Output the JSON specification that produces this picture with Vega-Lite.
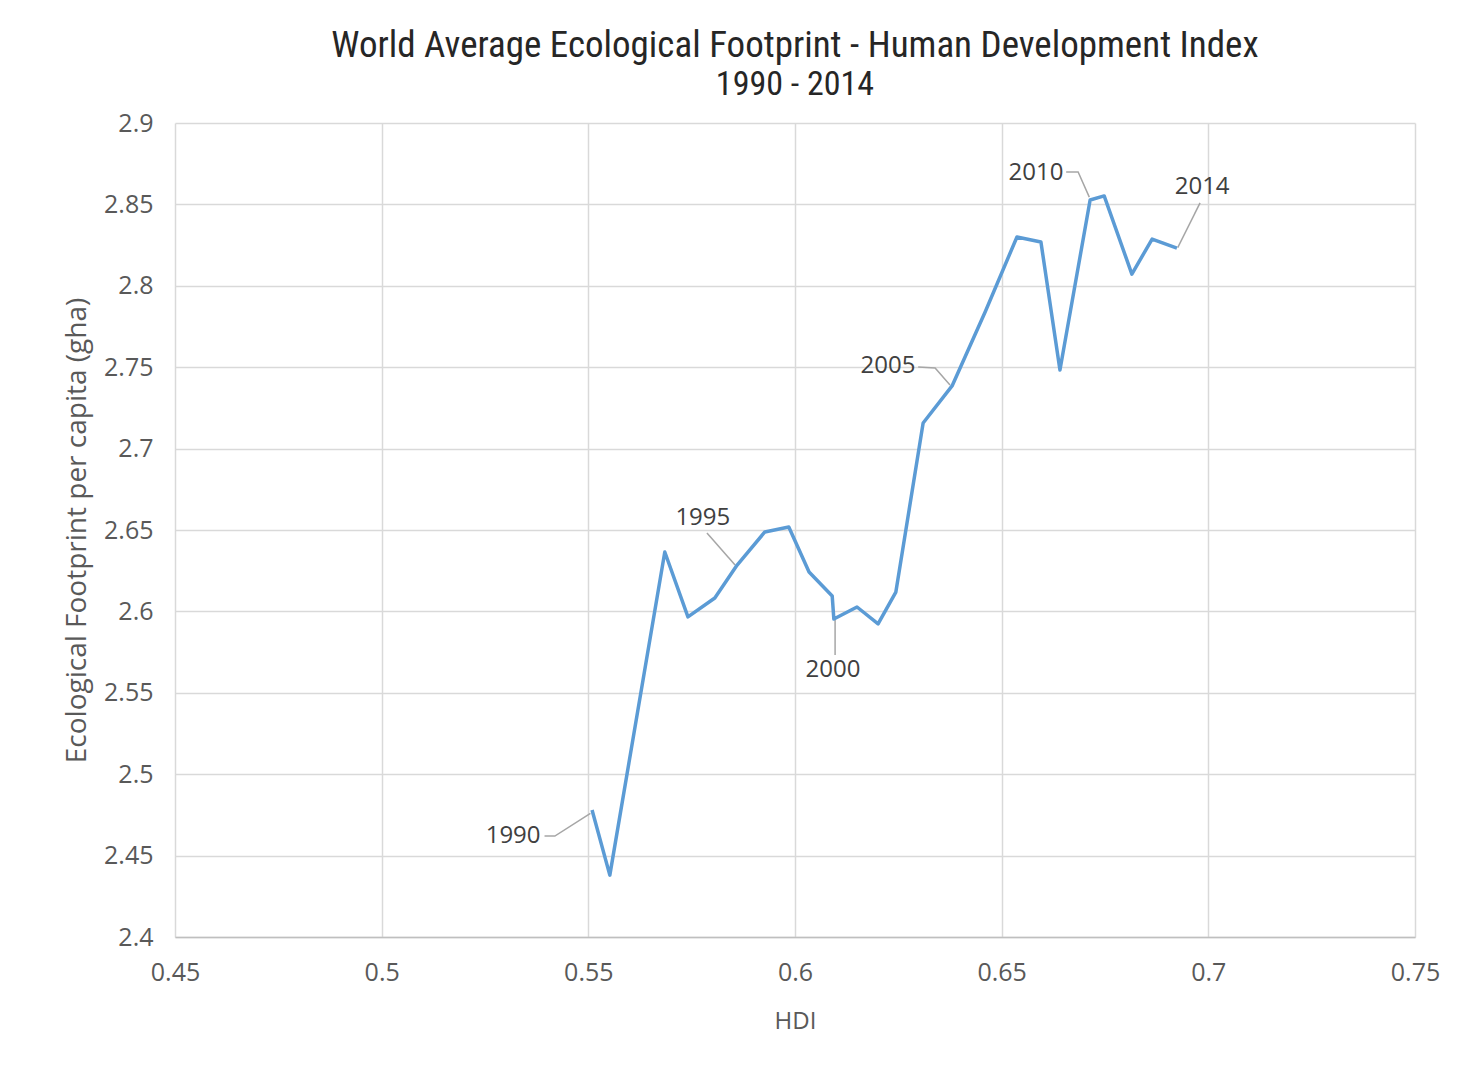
{
  "$schema": "https://vega.github.io/schema/vega-lite/v6.json",
  "autosize": "none",
  "width": 1240,
  "height": 814,
  "padding": {"left": 175, "top": 123, "right": 47, "bottom": 138},
  "background": "white",
  "config": {
    "view": {"stroke": null},
    "font": "Roboto"
  },
  "title": {
    "text": "World Average Ecological Footprint - Human Development Index",
    "subtitle": "1990 - 2014",
    "anchor": "middle",
    "font": "Liberation Sans Narrow, Roboto Condensed, Roboto",
    "fontSize": 37,
    "fontWeight": "normal",
    "color": "#262626",
    "subtitleFont": "Liberation Sans Narrow, Roboto Condensed, Roboto",
    "subtitleFontSize": 34,
    "subtitleColor": "#262626",
    "subtitlePadding": 3,
    "offset": 8
  },
  "datasets": {
    "series": [
      {"year": 1990, "hdi": 0.5509, "ef": 2.478},
      {"year": 1991, "hdi": 0.5552, "ef": 2.438},
      {"year": 1992, "hdi": 0.5685, "ef": 2.6365},
      {"year": 1993, "hdi": 0.5741, "ef": 2.5966},
      {"year": 1994, "hdi": 0.5806, "ef": 2.6082},
      {"year": 1995, "hdi": 0.586, "ef": 2.6285},
      {"year": 1996, "hdi": 0.5927, "ef": 2.6488},
      {"year": 1997, "hdi": 0.5985, "ef": 2.6518},
      {"year": 1998, "hdi": 0.6034, "ef": 2.6242},
      {"year": 1999, "hdi": 0.609, "ef": 2.6095},
      {"year": 2000, "hdi": 0.6094, "ef": 2.5953},
      {"year": 2001, "hdi": 0.615, "ef": 2.6027},
      {"year": 2002, "hdi": 0.6201, "ef": 2.5923},
      {"year": 2003, "hdi": 0.6244, "ef": 2.6119},
      {"year": 2004, "hdi": 0.631, "ef": 2.7157},
      {"year": 2005, "hdi": 0.638, "ef": 2.7385},
      {"year": 2006, "hdi": 0.646, "ef": 2.7839},
      {"year": 2007, "hdi": 0.6537, "ef": 2.83},
      {"year": 2008, "hdi": 0.6595, "ef": 2.8269},
      {"year": 2009, "hdi": 0.6641, "ef": 2.7483},
      {"year": 2010, "hdi": 0.6714, "ef": 2.8527},
      {"year": 2011, "hdi": 0.6748, "ef": 2.8552},
      {"year": 2012, "hdi": 0.6815, "ef": 2.8072},
      {"year": 2013, "hdi": 0.6864, "ef": 2.8287},
      {"year": 2014, "hdi": 0.6924, "ef": 2.8232}
    ],
    "labels": [
      {"label": "1990", "hdi": 0.5318, "ef": 2.462},
      {"label": "1995", "hdi": 0.5777, "ef": 2.6574},
      {"label": "2000", "hdi": 0.6092, "ef": 2.564},
      {"label": "2005", "hdi": 0.6225, "ef": 2.7507},
      {"label": "2010", "hdi": 0.6583, "ef": 2.8693},
      {"label": "2014", "hdi": 0.6985, "ef": 2.8607}
    ],
    "leaders": [
      {"label": "1990", "k": 1, "hdi": 0.5394, "ef": 2.462},
      {"label": "1990", "k": 2, "hdi": 0.5419, "ef": 2.462},
      {"label": "1990", "k": 3, "hdi": 0.5505, "ef": 2.476},
      {"label": "1995", "k": 1, "hdi": 0.5787, "ef": 2.6482},
      {"label": "1995", "k": 2, "hdi": 0.5855, "ef": 2.6285},
      {"label": "2000", "k": 1, "hdi": 0.6097, "ef": 2.5732},
      {"label": "2000", "k": 2, "hdi": 0.6097, "ef": 2.5953},
      {"label": "2005", "k": 1, "hdi": 0.6298, "ef": 2.7501},
      {"label": "2005", "k": 2, "hdi": 0.6339, "ef": 2.7495},
      {"label": "2005", "k": 3, "hdi": 0.6375, "ef": 2.739},
      {"label": "2010", "k": 1, "hdi": 0.6656, "ef": 2.8699},
      {"label": "2010", "k": 2, "hdi": 0.6685, "ef": 2.8699},
      {"label": "2010", "k": 3, "hdi": 0.6712, "ef": 2.8545},
      {"label": "2014", "k": 1, "hdi": 0.698, "ef": 2.8509},
      {"label": "2014", "k": 2, "hdi": 0.6926, "ef": 2.8235}
    ]
  },
  "encoding": {
    "x": {
      "field": "hdi",
      "type": "quantitative",
      "scale": {"domain": [0.45, 0.75], "nice": false, "zero": false},
      "axis": {
        "title": "HDI",
        "values": [0.45, 0.5, 0.55, 0.6, 0.65, 0.7, 0.75],
        "format": "~g",
        "grid": true,
        "gridColor": "#d9d9d9",
        "gridWidth": 1.5,
        "domain": true,
        "domainColor": "#bfbfbf",
        "domainWidth": 1.5,
        "ticks": false,
        "labelFlush": false,
        "labelFont": "Open Sans",
        "labelFontSize": 25,
        "labelColor": "#595959",
        "labelPadding": 23,
        "titleFont": "Open Sans",
        "titleFontSize": 24,
        "titleFontWeight": "normal",
        "titleColor": "#595959",
        "titlePadding": 24
      }
    },
    "y": {
      "field": "ef",
      "type": "quantitative",
      "scale": {"domain": [2.4, 2.9], "nice": false, "zero": false},
      "axis": {
        "title": "Ecological Footprint per capita (gha)",
        "values": [2.4, 2.45, 2.5, 2.55, 2.6, 2.65, 2.7, 2.75, 2.8, 2.85, 2.9],
        "format": "~g",
        "grid": true,
        "gridColor": "#d9d9d9",
        "gridWidth": 1.5,
        "domain": false,
        "ticks": false,
        "labelFlush": false,
        "labelFont": "Open Sans",
        "labelFontSize": 25,
        "labelColor": "#595959",
        "labelPadding": 22,
        "titleFont": "Open Sans",
        "titleFontSize": 28,
        "titleFontWeight": "normal",
        "titleColor": "#595959",
        "titlePadding": 12
      }
    }
  },
  "layer": [
    {
      "data": {"name": "leaders"},
      "mark": {"type": "line", "color": "#a6a6a6", "strokeWidth": 1.5},
      "encoding": {
        "detail": {"field": "label"},
        "order": {"field": "k"}
      }
    },
    {
      "data": {"name": "series"},
      "mark": {"type": "line", "color": "#5b9bd5", "strokeWidth": 3.5, "strokeJoin": "round"},
      "encoding": {
        "order": {"field": "year"}
      }
    },
    {
      "data": {"name": "labels"},
      "mark": {"type": "text", "font": "Open Sans", "fontSize": 24, "color": "#404040", "align": "center", "baseline": "middle"},
      "encoding": {
        "text": {"field": "label"}
      }
    }
  ]
}
